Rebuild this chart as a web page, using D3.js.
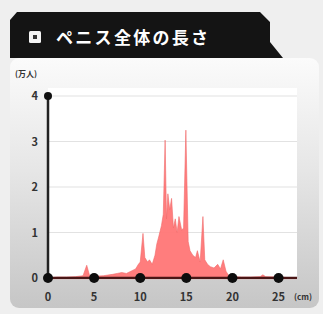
<!DOCTYPE html>
<html lang="ja">
<head>
<meta charset="UTF-8">
<title>ペニス全体の長さ</title>
<style>
  body { margin: 0; background: #efefef; }
  svg { display: block; }
  text { font-family: "Noto Sans CJK JP", "Liberation Sans", sans-serif; }
</style>
<script src="https://d3js.org/d3.v7.min.js"></script>
</head>
<body>
<svg width="323" height="314"></svg>
<script>
  // length in cm, count in 万人
  var lengths = [0, 1, 2, 3, 3.8, 4.2, 4.5, 5, 6, 7, 7.5, 8, 8.5, 9, 9.5, 9.8, 10.0, 10.3, 10.5, 10.8,
    11.0, 11.3, 11.6, 11.8, 12.0, 12.3, 12.5, 12.7, 12.85, 13.0, 13.2, 13.4, 13.6, 13.8, 14.0, 14.2,
    14.5, 14.7, 14.95, 15.2, 15.4, 15.7, 16.0, 16.2, 16.5, 16.8, 17.0, 17.3, 17.6, 18.0, 18.4, 18.7,
    19.0, 19.3, 19.6, 20, 21, 22, 23, 23.3, 23.6, 25, 26, 27];
  var counts = [0, 0.02, 0.02, 0.03, 0.05, 0.28, 0.06, 0.04, 0.05, 0.08, 0.1, 0.12, 0.1, 0.15, 0.2, 0.3, 0.35, 0.98, 0.45, 0.35,
    0.4, 0.3, 0.5, 0.75, 0.9, 1.15, 1.4, 3.03, 1.3, 1.85, 1.5, 1.75, 1.1, 1.3, 1.0, 1.35,
    1.05, 1.1, 3.25, 0.8, 0.6, 0.5, 0.45, 0.6, 0.35, 1.35, 0.4, 0.3, 0.25, 0.22, 0.3, 0.2,
    0.4, 0.15, 0.05, 0.03, 0.02, 0.02, 0.03, 0.07, 0.03, 0.02, 0.01, 0.01];
  var xTicks = [0, 5, 10, 15, 20, 25];
  var yTicks = [0, 1, 2, 3, 4];
  var title = "ペニス全体の長さ";

  var svg = d3.select("svg");

  var defs = svg.append("defs");
  var grad = defs.append("linearGradient").attr("id", "card").attr("x1", 0).attr("y1", 0).attr("x2", 0).attr("y2", 1);
  grad.append("stop").attr("offset", "0%").attr("stop-color", "#fbfbfb");
  grad.append("stop").attr("offset", "45%").attr("stop-color", "#e6e6e6");
  grad.append("stop").attr("offset", "100%").attr("stop-color", "#c6c6c6");

  // card
  svg.append("rect").attr("x", 10).attr("y", 58).attr("width", 309).attr("height", 250)
    .attr("rx", 9).attr("fill", "url(#card)");

  // title bar
  svg.append("path")
    .attr("d", "M17,12 L260,12 L270,22 L270,42 L283,58 L10,58 L10,20 Z")
    .attr("fill", "#141414");
  svg.append("rect").attr("x", 29).attr("y", 31).attr("width", 12).attr("height", 12)
    .attr("rx", 1.5).attr("fill", "#f4f4f4");
  svg.append("rect").attr("x", 33).attr("y", 35).attr("width", 4).attr("height", 4)
    .attr("fill", "#333");
  svg.append("text").attr("x", 56).attr("y", 44).attr("fill", "#fff")
    .attr("font-size", 17).attr("font-weight", "bold").attr("letter-spacing", 2.3)
    .text(title);

  var x = d3.scaleLinear().domain([0, 27]).range([48, 297]);
  var y = d3.scaleLinear().domain([0, 4]).range([278, 96]);

  // plot background
  svg.append("rect").attr("x", 48).attr("y", 88).attr("width", 249).attr("height", 192)
    .attr("fill", "#fff");

  // grid
  svg.append("g").selectAll("line").data(yTicks.filter(function (d) { return d > 0; }))
    .enter().append("line")
    .attr("x1", 48).attr("x2", 297)
    .attr("y1", function (d) { return y(d); }).attr("y2", function (d) { return y(d); })
    .attr("stroke", "#e2e2e2").attr("stroke-width", 1.2);

  // area
  var area = d3.area()
    .x(function (d, i) { return x(lengths[i]); })
    .y0(y(0))
    .y1(function (d) { return y(d); });
  svg.append("path").datum(counts)
    .attr("d", area)
    .attr("fill", "#ff7676").attr("fill-opacity", 0.95)
    .attr("stroke", "#f06a6a").attr("stroke-width", 0.6);

  // y axis
  svg.append("line").attr("x1", x(0)).attr("x2", x(0)).attr("y1", y(0)).attr("y2", y(4))
    .attr("stroke", "#222").attr("stroke-width", 2.5);
  svg.append("circle").attr("cx", x(0)).attr("cy", y(4)).attr("r", 4).attr("fill", "#111");

  // x axis
  svg.append("line").attr("x1", x(0)).attr("x2", x(27)).attr("y1", y(0)).attr("y2", y(0))
    .attr("stroke", "#4a1616").attr("stroke-width", 2.5);
  svg.append("g").selectAll("circle").data(xTicks).enter().append("circle")
    .attr("cx", function (d) { return x(d); }).attr("cy", y(0)).attr("r", 5).attr("fill", "#0d0d0d");

  // labels
  svg.append("g").selectAll("text").data(yTicks).enter().append("text")
    .attr("x", 38).attr("y", function (d) { return y(d) + 4; })
    .attr("text-anchor", "end").attr("font-size", 11).attr("font-weight", "bold").attr("fill", "#333")
    .text(function (d) { return d; });
  svg.append("g").selectAll("text").data(xTicks).enter().append("text")
    .attr("x", function (d) { return x(d); }).attr("y", 301)
    .attr("text-anchor", "middle").attr("font-size", 11).attr("font-weight", "bold").attr("fill", "#333")
    .text(function (d) { return d; });
  svg.append("text").attr("x", 294).attr("y", 300).attr("font-size", 8).attr("font-weight", "bold")
    .attr("fill", "#333").text("(cm)");
  svg.append("text").attr("x", 15).attr("y", 77).attr("font-size", 8).attr("font-weight", "bold")
    .attr("fill", "#333").text("(万人)");
</script>
</body>
</html>
